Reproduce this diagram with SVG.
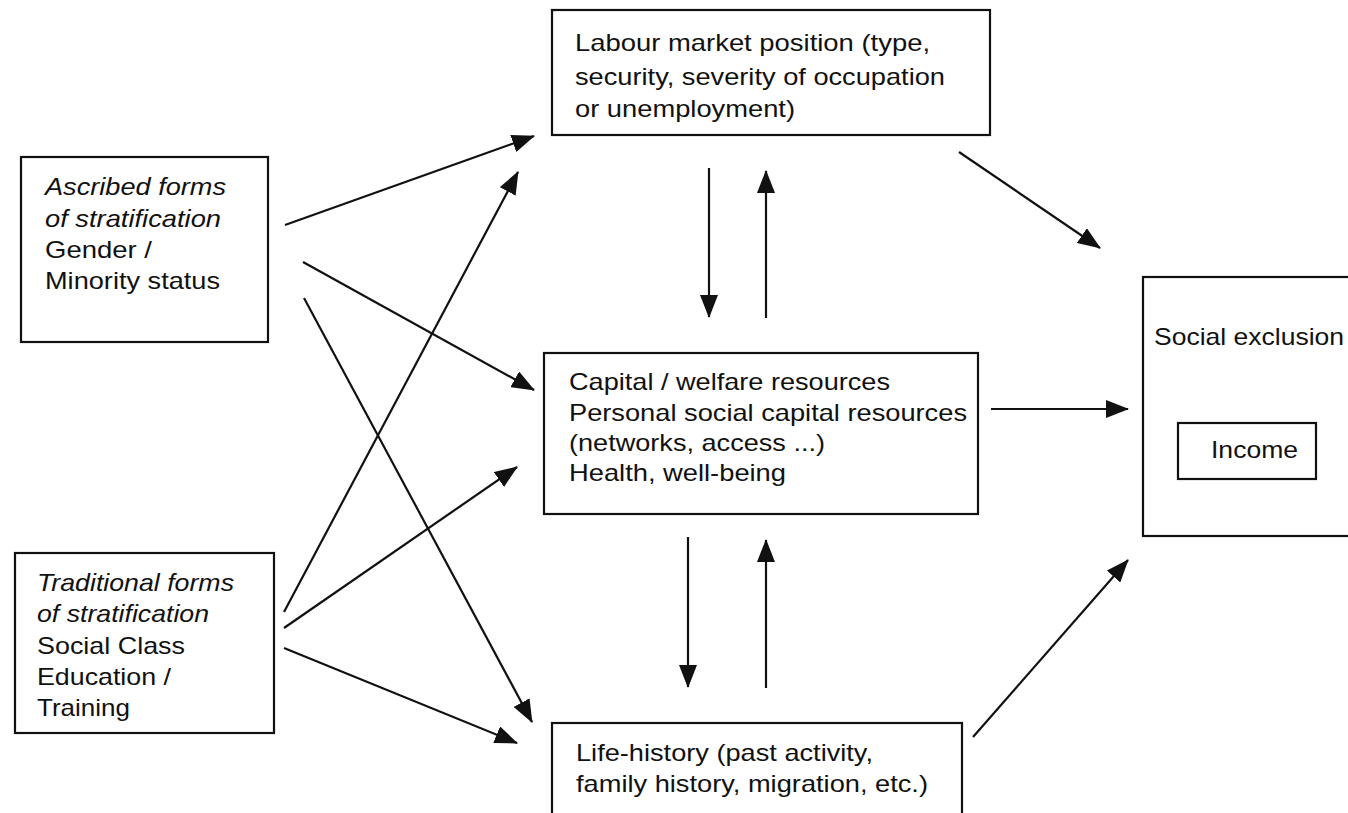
<svg xmlns="http://www.w3.org/2000/svg" width="1348" height="813" viewBox="0 0 1348 813">
<style>
.box{fill:#fff;stroke:#111;stroke-width:2.2}
.t{font-family:"Liberation Sans",Arial,sans-serif;font-size:24px;fill:#111}
.i{font-style:italic}
.c{stroke:#111;stroke-width:2.2;fill:none}
</style>
<defs>
<marker id="ah" markerUnits="userSpaceOnUse" markerWidth="23" markerHeight="18" refX="22" refY="9" orient="auto" viewBox="0 0 23 18">
<path d="M0,0 L23,9 L0,18 z" fill="#111"/>
</marker>
</defs>
<rect width="1348" height="813" fill="#fff"/>
<g id="connectors">
<line class="c" x1="285" y1="225" x2="534" y2="136" marker-end="url(#ah)"/>
<line class="c" x1="303" y1="262" x2="534" y2="390" marker-end="url(#ah)"/>
<line class="c" x1="304" y1="298" x2="532" y2="722" marker-end="url(#ah)"/>
<line class="c" x1="284" y1="612" x2="518" y2="172" marker-end="url(#ah)"/>
<line class="c" x1="284" y1="628" x2="517" y2="467" marker-end="url(#ah)"/>
<line class="c" x1="284" y1="648" x2="517" y2="743" marker-end="url(#ah)"/>
<line class="c" x1="709" y1="168" x2="709" y2="317" marker-end="url(#ah)"/>
<line class="c" x1="766" y1="318" x2="766" y2="171" marker-end="url(#ah)"/>
<line class="c" x1="688" y1="537" x2="688" y2="687" marker-end="url(#ah)"/>
<line class="c" x1="766" y1="688" x2="766" y2="540" marker-end="url(#ah)"/>
<line class="c" x1="959" y1="152" x2="1100" y2="248" marker-end="url(#ah)"/>
<line class="c" x1="991" y1="409" x2="1128" y2="409" marker-end="url(#ah)"/>
<line class="c" x1="973" y1="737" x2="1128" y2="560" marker-end="url(#ah)"/>
</g>
<g id="ascribed">
<rect class="box" x="21" y="157" width="247" height="185"/>
<text class="t i" x="45" y="195" textLength="181" lengthAdjust="spacingAndGlyphs">Ascribed forms</text>
<text class="t i" x="45" y="227" textLength="176" lengthAdjust="spacingAndGlyphs">of stratification</text>
<text class="t" x="45" y="258" textLength="107" lengthAdjust="spacingAndGlyphs">Gender /</text>
<text class="t" x="45" y="289" textLength="175" lengthAdjust="spacingAndGlyphs">Minority status</text>
</g>
<g id="traditional">
<rect class="box" x="15" y="553" width="259" height="180"/>
<text class="t i" x="37" y="591" textLength="197" lengthAdjust="spacingAndGlyphs">Traditional forms</text>
<text class="t i" x="37" y="622" textLength="172" lengthAdjust="spacingAndGlyphs">of stratification</text>
<text class="t" x="37" y="654" textLength="148" lengthAdjust="spacingAndGlyphs">Social Class</text>
<text class="t" x="37" y="685" textLength="134" lengthAdjust="spacingAndGlyphs">Education /</text>
<text class="t" x="37" y="716" textLength="93" lengthAdjust="spacingAndGlyphs">Training</text>
</g>
<g id="labour">
<rect class="box" x="552" y="10" width="438" height="125"/>
<text class="t" x="575" y="51" textLength="355" lengthAdjust="spacingAndGlyphs">Labour market position (type,</text>
<text class="t" x="575" y="85" textLength="370" lengthAdjust="spacingAndGlyphs">security, severity of occupation</text>
<text class="t" x="575" y="117" textLength="220" lengthAdjust="spacingAndGlyphs">or unemployment)</text>
</g>
<g id="capital">
<rect class="box" x="544" y="353" width="434" height="161"/>
<text class="t" x="569" y="390" textLength="321" lengthAdjust="spacingAndGlyphs">Capital / welfare resources</text>
<text class="t" x="569" y="421" textLength="398" lengthAdjust="spacingAndGlyphs">Personal social capital resources</text>
<text class="t" x="569" y="451" textLength="256" lengthAdjust="spacingAndGlyphs">(networks, access ...)</text>
<text class="t" x="569" y="481" textLength="217" lengthAdjust="spacingAndGlyphs">Health, well-being</text>
</g>
<g id="lifehistory">
<rect class="box" x="552" y="723" width="410" height="110"/>
<text class="t" x="576" y="761" textLength="297" lengthAdjust="spacingAndGlyphs">Life-history (past activity,</text>
<text class="t" x="576" y="792" textLength="352" lengthAdjust="spacingAndGlyphs">family history, migration, etc.)</text>
</g>
<g id="socialexclusion">
<rect class="box" x="1143" y="277" width="220" height="259"/>
<text class="t" x="1154" y="345" textLength="190" lengthAdjust="spacingAndGlyphs">Social exclusion</text>
</g>
<g id="income">
<rect class="box" x="1178" y="423" width="138" height="56"/>
<text class="t" x="1211" y="458" textLength="87" lengthAdjust="spacingAndGlyphs">Income</text>
</g>
</svg>
